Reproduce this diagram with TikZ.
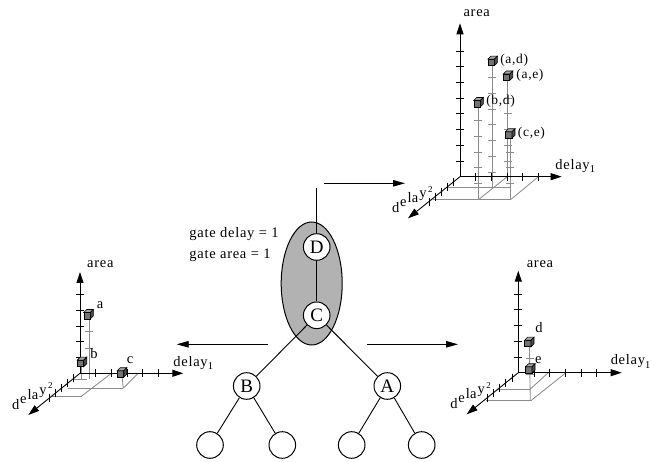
\documentclass[tikz,border=0pt]{standalone}
\usepackage{fontspec}
\setmainfont{Liberation Serif}[LetterSpace=5.0]
\usetikzlibrary{arrows.meta, positioning, shapes.geometric}

\begin{document}
\begin{tikzpicture}[
    x=1pt, y=-1pt,
    line width=0.9pt,
    gate/.style={draw, circle, line width=1pt, minimum size=26.6pt, inner sep=0pt, fill=white, font=\fontsize{19}{19}\selectfont},
    lbl/.style={inner sep=0pt, font=\fontsize{14.5}{16}\selectfont},
    ptlbl/.style={inner sep=0pt, anchor=west, font=\fontsize{13.5}{15}\selectfont},
    arrow/.style={-{Triangle[length=12pt, width=6.5pt]}, line width=0.9pt},
    axline/.style={-{Triangle[length=11pt, width=7pt]}, line width=0.9pt},
    axtick/.style={line width=0.9pt},
    proj/.style={draw=black!45, line width=0.85pt},
    cube/.pic={
        \filldraw[fill=black!55, line width=0.6pt] (-4.5,-1.5) rectangle (2,5);
        \filldraw[fill=black!35, line width=0.6pt] (-4.5,-1.5) -- (-1.5,-4.5) -- (5,-4.5) -- (2,-1.5) -- cycle;
        \filldraw[fill=black!70, line width=0.6pt] (2,-1.5) -- (5,-4.5) -- (5,2) -- (2,5) -- cycle;
    },
    dlabel/.pic={
        \node[lbl, anchor=base] (-d) at (-64.2,36) {d};
        \node[lbl, anchor=base] (-e) at (-56.7,30) {e};
        \node[lbl, anchor=base] (-l) at (-50.3,26.3) {l};
        \node[lbl, anchor=base] (-a) at (-45,26) {a};
        \node[lbl, anchor=base] (-y) at (-37,21) {y};
        \node[lbl, anchor=base, font=\fontsize{9}{9}\selectfont] (-two) at (-29.7,15.5) {2};
    }
]
\useasboundingbox (0,0) rectangle (662,462);

% Nodes
\node[draw, ellipse, line width=1pt, inner sep=0pt, fill=black!30, minimum width=61pt, minimum height=123pt] (cone) at (311.7,283.5) {};
\node[gate] (D) at (316.7,247) {D};
\node[gate, below=40.7pt of D] (C) {C};
\node[gate] (B) at (246.7,386) {B};
\node[gate] (A) at (387.3,386) {A};
\node[gate] (l1) at (210,445) {};
\node[gate] (l2) at (282.3,445) {};
\node[gate] (l3) at (351.7,445) {};
\node[gate] (l4) at (421.7,445) {};
\coordinate (out) at (316.7,188);

\node[lbl, anchor=base west] (gdelay) at (189,238) {gate delay = 1};
\node[lbl, anchor=base west] (garea) at (189,259) {gate area = 1};

% Connections
\draw (D) -- (out);
\draw (D) -- (C);
\draw (C) -- (B);
\draw (C) -- (A);
\draw (B) -- (l1);
\draw (B) -- (l2);
\draw (A) -- (l3);
\draw (A) -- (l4);

\coordinate (upS) at (324,183.3);
\coordinate (upE) at (405,183.3);
\coordinate (leftS) at (268.3,344.3);
\coordinate (leftE) at (176.7,344.3);
\coordinate (rightS) at (366.7,344.3);
\coordinate (rightE) at (458,344.3);
\draw[arrow] (upS) -- (upE);
\draw[arrow] (leftS) -- (leftE);
\draw[arrow] (rightS) -- (rightE);

% Plot: cone D+C (top right)
\begin{scope}[shift={(460,176.7)}]
    \draw[proj] (-13.3,11) -- (50,11);
    \draw[proj] (-26.7,22.6) -- (51,22.6);
    \draw[proj] (47.1,0) -- (19,22.6);
    \draw[proj] (78.5,0) -- (51,22.6);
    \draw[proj] (18.3,22.6) -- (18.3,-74);
    \foreach \k in {1,...,5} \draw[proj] (14.3,22.6-15.7*\k) -- (22.3,22.6-15.7*\k);
    \draw[proj] (32.3,11) -- (32.3,-116);
    \foreach \k in {1,...,7} \draw[proj] (28.3,11-15.7*\k) -- (36.3,11-15.7*\k);
    \draw[proj] (47.7,0) -- (47.7,-101);
    \foreach \k in {1,...,5} \draw[proj] (43.7,-15.7*\k) -- (51.7,-15.7*\k);
    \draw[proj] (50,22.6) -- (50,-43);
    \foreach \k in {1,...,3} \draw[proj] (46,22.6-15.7*\k) -- (54,22.6-15.7*\k);
    \draw[axline] (0,0) -- (0,-153.4);
    \draw[axline] (0,0) -- (101.7,0);
    \draw[axline] (0,0) -- (-52,41.6);
    \foreach \k in {1,...,8} \draw[axtick] (-4,-15.7*\k) -- (4,-15.7*\k);
    \foreach \k in {1,...,5} \draw[axtick] (15.7*\k,-4) -- (15.7*\k,4);
    \foreach \k in {1,...,5} \draw[axtick] (-6.2*\k,5*\k-4) -- (-6.2*\k,5*\k+4);
    \node[lbl] (areaT) at (16.7,-163.4) {area};
    \node[lbl, anchor=base west] (delayT) at (95,-7.5) {delay\raisebox{-3.5pt}{\fontsize{10.5}{10}\selectfont 1}};
    \pic (dT) at (0,0) {dlabel};
    \pic at (32.3,-116) {cube};
    \pic at (47.7,-101.2) {cube};
    \pic at (18.3,-74.7) {cube};
    \pic at (50,-43.4) {cube};
    \node[ptlbl] (ad) at (39.8,-116.5) {(a,d)};
    \node[ptlbl] (ae) at (56,-101.7) {(a,e)};
    \node[ptlbl] (bd) at (25.8,-75.2) {(b,d)};
    \node[ptlbl] (ce) at (57.5,-43.9) {(c,e)};
\end{scope}

% Plot: node B (left)
\begin{scope}[shift={(80,373.3)}]
    \draw[proj] (-12,15) -- (43.3,15);
    \draw[proj] (-28.5,22.7) -- (1.7,22.7);
    \draw[proj] (31.4,0) -- (1.7,22.7);
    \draw[proj] (58.3,0) -- (43.3,15);
    \draw[proj] (41.7,0) -- (43.3,15);
    \draw[proj] (9.3,-59) -- (9.3,6);
    \foreach \h in {-41.6,-25} \draw[proj] (5.3,\h) -- (13.3,\h);
    \draw[proj] (1.7,-11) -- (1.7,6);
    \draw[proj] (-6,6) -- (7.3,6);
    \draw[axline] (0,0) -- (0,-101.3);
    \draw[axline] (0,0) -- (103.3,0);
    \draw[axline] (0,0) -- (-51.7,41.7);
    \foreach \k in {1,...,5} \draw[axtick] (-4,-15.7*\k) -- (4,-15.7*\k);
    \foreach \k in {1,...,5} \draw[axtick] (15.7*\k,-4) -- (15.7*\k,4);
    \foreach \k in {1,...,5} \draw[axtick] (-6.2*\k,5*\k-4) -- (-6.2*\k,5*\k+4);
    \node[lbl] (areaL) at (20.3,-109) {area};
    \node[lbl, anchor=base west] (delayL) at (93,-7) {delay\raisebox{-3.5pt}{\fontsize{10.5}{10}\selectfont 1}};
    \pic (dL) at (0,0) {dlabel};
    \pic at (8.3,-59.3) {cube};
    \pic at (1.7,-11.6) {cube};
    \pic at (41.7,-1) {cube};
    \node[lbl] (pa) at (20,-68) {a};
    \node[lbl] (pb) at (14,-19.3) {b};
    \node[lbl] (pc) at (50,-13) {c};
\end{scope}

% Plot: node A (right)
\begin{scope}[shift={(518.3,372.7)}]
    \draw[proj] (-20.3,16.6) -- (11.7,16.6);
    \draw[proj] (-32.3,27.3) -- (13.4,27.3);
    \draw[proj] (47.7,0) -- (13.4,27.3);
    \draw[proj] (30,0) -- (11.7,16.6);
    \draw[proj] (11,-31) -- (12,27.3);
    \foreach \h in {-14.4,2} \draw[proj] (7.3,\h) -- (15.3,\h);
    \draw[axline] (0,0) -- (0,-102);
    \draw[axline] (0,0) -- (103.4,0);
    \draw[axline] (0,0) -- (-51.6,41.6);
    \foreach \k in {1,...,5} \draw[axtick] (-4,-15.7*\k) -- (4,-15.7*\k);
    \foreach \k in {1,...,5} \draw[axtick] (15.7*\k,-4) -- (15.7*\k,4);
    \foreach \k in {1,...,5} \draw[axtick] (-6.2*\k,5*\k-4) -- (-6.2*\k,5*\k+4);
    \node[lbl] (areaR) at (21.7,-108.7) {area};
    \node[lbl, anchor=base west] (delayR) at (92,-8) {delay\raisebox{-3.5pt}{\fontsize{10.5}{10}\selectfont 1}};
    \pic (dR) at (0,0) {dlabel};
    \pic at (10.7,-31) {cube};
    \pic at (11.7,-4.4) {cube};
    \node[lbl] (pd) at (20.7,-44.7) {d};
    \node[lbl] (pe) at (20,-12.7) {e};
\end{scope}

\end{tikzpicture}
\end{document}
